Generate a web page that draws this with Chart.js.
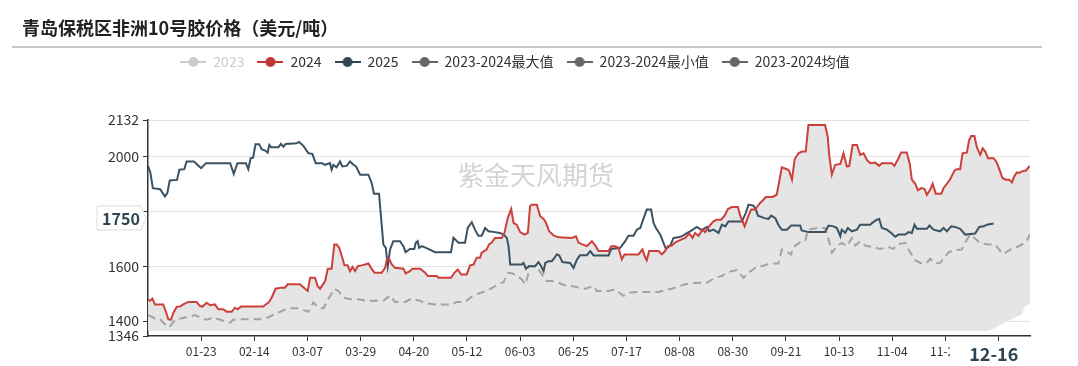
<!DOCTYPE html>
<html>
<head>
<meta charset="utf-8">
<script src="https://cdn.jsdelivr.net/npm/chart.js@4.4.1/dist/chart.umd.min.js"></script>
<style>
  html, body { margin: 0; padding: 0; background: #fff; }
  #wrap { position: relative; width: 1078px; height: 366px; overflow: hidden; }
  #title { position: absolute; left: 22px; top: 15px; font: bold 18px "Noto Sans CJK SC", sans-serif; color: #222; line-height: 24px; }
  #rule { position: absolute; left: 12px; top: 46px; width: 1030px; height: 2px; background: #c8c8c8; }
  canvas { position: absolute; left: 0; top: 0; }
</style>
</head>
<body>
<div id="wrap">
  <canvas id="chart" width="1078" height="366"></canvas>
  <div id="title">青岛保税区非洲10号胶价格（美元/吨）</div>
  <div id="rule"></div>
</div>
<script>
// ---------------- CATEGORIES (day of year -> MM-DD) ----------------
const dates = [];
for (let d = new Date(2024, 0, 1); d.getFullYear() === 2024; d.setDate(d.getDate() + 1)) {
  dates.push(String(d.getMonth() + 1).padStart(2, "0") + "-" + String(d.getDate()).padStart(2, "0"));
}

const tickDays = [22, 44, 66, 88, 110, 132, 154, 176, 198, 220, 242, 264, 286, 308, 330, 352];
const yTicks = [1346, 1400, 1600, 1800, 2000, 2132];

// axis pointer shown in the reference
const pointerDay = 350;
const pointerValue = 1750;

// ---------------- SERIES ([day, price]) ----------------
const s2024 = [
  [0,1478],[0.8,1474],[1.8,1482],[2.9,1461],[6.3,1461],[7.3,1437],[8.4,1407],[9.5,1405],[10.5,1431],
  [11.9,1452],[13.2,1453],[14.6,1461],[16.7,1470],[20.1,1470],[21.5,1455],[22.5,1453],[24.3,1467],
  [25.7,1458],[27.7,1461],[29.1,1443],[31.2,1443],[32.6,1434],[34.6,1434],[36,1449],[37.1,1443],
  [38.5,1453],[47.7,1453],[50.1,1470],[51.2,1486],[52.8,1518],[55.1,1522],[56.7,1522],[57.8,1534],
  [62.9,1534],[65,1518],[66.1,1510],[67.1,1558],[69.1,1558],[70.2,1528],[71.2,1518],[73.3,1546],
  [74.4,1591],[76,1591],[77.1,1679],[78.1,1679],[79.1,1667],[80.2,1637],[81.3,1603],[82.6,1603],
  [83.6,1582],[84.6,1597],[85.7,1582],[86.8,1600],[88.4,1603],[89.8,1606],[91.2,1610],[92.3,1594],
  [93.7,1576],[96.7,1576],[98.1,1594],[98.9,1625],[99.8,1627],[100.9,1606],[102.2,1594],[105.7,1591],
  [106.6,1574],[108.4,1582],[109.4,1591],[112.6,1591],[114.7,1576],[115.8,1564],[119.5,1564],
  [120.2,1558],[125.4,1558],[126.8,1576],[128.2,1588],[129.6,1570],[131.9,1570],[133.3,1603],
  [134.7,1606],[136,1631],[137.4,1631],[138.1,1649],[140.2,1661],[141.1,1679],[142.2,1685],
  [143.6,1703],[146.4,1703],[147.5,1721],[148.9,1776],[150.3,1808],[151.3,1757],[152.6,1751],
  [154,1724],[155.8,1715],[157.2,1721],[158.1,1818],[158.8,1824],[160.9,1824],[162.3,1782],
  [163.7,1772],[164.6,1760],[166,1727],[168,1711],[170,1705],[175.4,1703],[177.1,1709],[178.2,1685],
  [181.6,1673],[183.7,1691],[185.3,1673],[186.4,1655],[190.6,1655],[191.7,1673],[193.3,1673],
  [194.7,1667],[196.1,1625],[197.2,1643],[203,1643],[204.6,1661],[205.5,1637],[206.4,1622],
  [207.4,1655],[211.3,1655],[212.6,1643],[214,1655],[215.1,1673],[216.8,1675],[218.2,1687],
  [220.2,1695],[222.3,1703],[224,1719],[225.3,1703],[226.4,1721],[227.8,1711],[229.5,1733],
  [230.6,1724],[232.2,1745],[234,1763],[235.4,1769],[237.2,1769],[238.6,1784],[240,1808],
  [241.6,1815],[244.1,1815],[245.1,1784],[246.9,1745],[248.5,1784],[249.6,1806],[251.3,1806],
  [252.4,1820],[253.3,1830],[254.7,1842],[255.7,1852],[258.4,1852],[260.2,1860],[261.2,1908],
  [262.3,1960],[264.4,1953],[265.3,1948],[266.5,1915],[267.6,1989],[269.2,2011],[270.6,2017],
  [272.2,2017],[273.3,2114],[280.2,2114],[281.3,2071],[281.9,2005],[283,1933],[284.4,1969],
  [286.5,1972],[287.8,2011],[289.2,1963],[290.2,1965],[291.6,2041],[293.4,2041],[294.7,2005],
  [296.1,2011],[297.5,1987],[298.9,1975],[300.9,1977],[302.6,1965],[303.7,1975],[307.8,1975],
  [308.9,1965],[310.6,1993],[311.7,2014],[314,2014],[315.2,1975],[316.1,1915],[317.5,1900],
  [318.6,1876],[320,1884],[321.4,1881],[322.3,1860],[323.7,1878],[324.7,1900],[326,1864],
  [328.3,1864],[329.2,1884],[330.6,1900],[332,1917],[333,1935],[333.8,1948],[334.7,1953],
  [336.1,1953],[337.1,2011],[338.9,2014],[339.8,2059],[340.7,2074],[342,2074],[343,2033],
  [344.4,2005],[345.4,2029],[346.5,2017],[347.6,1993],[349.9,1993],[351,1981],[352.3,1953],
  [353.6,1921],[355,1915],[356.4,1915],[357.5,1905],[358.6,1929],[359.6,1941],[360.5,1939],
  [361.6,1945],[363.3,1948],[364.4,1960],[365,1965]
];

const s2025 = [
  [0,1965],[1,1940],[2,1884],[5,1880],[7,1854],[8,1866],[9,1912],[12,1914],[13,1951],[15,1953],
  [16,1981],[19,1981],[21,1965],[22,1957],[24,1975],[34,1975],[35.5,1936],[37,1975],[40.5,1975],
  [41.5,1953],[42.5,1993],[43.5,1995],[44.5,2044],[46,2044],[47,2026],[48.5,2021],[49.5,2013],
  [50.2,2041],[51,2033],[54,2033],[55,2045],[56,2035],[57,2045],[61.5,2047],[62.5,2052],
  [64.3,2038],[66.4,2011],[68,2009],[69.4,1975],[72,1975],[73.3,1969],[75.3,1975],[76,1951],
  [76.7,1969],[78,1960],[79.5,1981],[80.4,1963],[82.2,1965],[83.6,1981],[85,1969],[86.1,1963],
  [87.1,1945],[87.8,1933],[91.2,1933],[92.6,1902],[93.5,1864],[95.6,1864],[96.4,1782],[97.4,1679],
  [98.4,1667],[99.2,1600],[100.2,1661],[101.5,1691],[104.3,1691],[105.7,1673],[106.6,1651],
  [108.4,1663],[110.2,1663],[110.8,1685],[111.6,1691],[112.2,1667],[113.3,1673],[116,1663],
  [118.8,1651],[125.4,1651],[126.4,1703],[128.5,1685],[131.2,1685],[132.3,1739],[134,1760],
  [135.3,1733],[136.7,1711],[138.1,1711],[139.5,1739],[140.9,1727],[143.6,1724],[145.7,1721],
  [147.1,1715],[148.5,1703],[149.2,1673],[149.9,1606],[154.7,1606],[155.4,1612],[156.4,1591],
  [157.5,1600],[160.2,1600],[161.6,1615],[162.7,1600],[163.7,1582],[164.4,1612],[165.7,1618],
  [167.1,1618],[168.2,1630],[169.2,1643],[170.2,1639],[171.5,1615],[174.7,1612],[176.1,1594],
  [177.5,1624],[178.8,1640],[181.6,1640],[183,1655],[184.4,1639],[190.6,1639],[191.7,1663],
  [195.4,1667],[197.5,1691],[198.8,1711],[200.9,1711],[202.3,1733],[203.7,1739],[205.5,1784],
  [206.4,1806],[208.2,1806],[209.2,1757],[210.2,1739],[212,1715],[214.3,1663],[216.1,1675],
  [217.5,1703],[219.5,1705],[220.9,1709],[223,1720],[224.4,1727],[227.1,1743],[229.2,1731],
  [231.3,1743],[232.2,1727],[234,1733],[236.1,1721],[237.5,1751],[238.9,1745],[240.2,1763],
  [245.8,1763],[247.4,1794],[248.5,1824],[250.6,1820],[251.6,1806],[252.4,1784],[255.1,1775],
  [256.8,1772],[257.9,1784],[259.6,1775],[261,1748],[262.3,1733],[264.4,1733],[266.2,1748],
  [269.9,1748],[270.5,1730],[273.3,1724],[280.2,1724],[281.6,1748],[283.7,1745],[285.1,1739],
  [286.5,1709],[287.1,1733],[288.5,1721],[289.6,1739],[291.3,1727],[293.4,1733],[294.7,1751],
  [298.9,1751],[299.6,1757],[301.6,1769],[302.6,1772],[303.7,1739],[305.8,1733],[307.8,1719],
  [309.2,1707],[310.6,1715],[313.4,1715],[314.7,1724],[316.1,1721],[317.2,1751],[318.2,1736],
  [322.3,1736],[323.4,1748],[325.1,1733],[327.8,1727],[329.2,1739],[330.6,1727],[332.4,1745],
  [334,1743],[336.1,1736],[338.2,1715],[342.3,1719],[344,1743],[345.8,1745],[347.2,1751],
  [349.9,1755]
];

// upper edge of the grey band sits on the 2024 line all year
const sMax = s2024;

// lower edge of the grey band
const sMin = [[0,1365],[347.8,1365],[350,1372],[354.7,1395],[358,1410],[361.6,1425],[363,1455],[365,1462]];

const sMean = [
  [0,1422],[0.8,1419],[2.9,1410],[5,1407],[6.3,1395],[8.4,1377],[9.5,1385],[11.2,1405],[15.3,1413],
  [19.5,1422],[22.5,1410],[24.3,1405],[27.1,1413],[29.8,1405],[32.6,1397],[34,1395],[35.3,1405],
  [38.8,1407],[47.7,1407],[50.5,1417],[53.3,1429],[58.1,1447],[62.2,1447],[66.4,1434],[68.4,1468],
  [70.5,1449],[72.6,1446],[74.6,1480],[77.1,1518],[78.8,1510],[80.9,1486],[83.6,1480],[87.1,1480],
  [90.5,1474],[97.4,1474],[100.2,1494],[102.2,1470],[106.4,1470],[109.1,1482],[112.6,1474],
  [114.7,1465],[118.8,1461],[125.7,1461],[127.8,1470],[131.2,1470],[134,1489],[136,1498],
  [140.9,1513],[145,1534],[147.1,1542],[148.9,1576],[150.6,1574],[152.6,1567],[154.7,1552],
  [156.1,1534],[157.2,1564],[157.7,1600],[160.2,1600],[161.6,1588],[164.1,1558],[165.1,1546],
  [167.1,1546],[169.9,1540],[172.6,1530],[175.4,1528],[178.2,1522],[180.9,1518],[184.4,1528],
  [185.7,1510],[190.6,1510],[193.3,1516],[196.8,1492],[199.5,1504],[203,1506],[211.3,1506],
  [214,1513],[216.8,1518],[220.2,1528],[222.3,1534],[227.8,1540],[231.3,1540],[234.7,1558],
  [237.5,1564],[240.2,1579],[243.7,1586],[246.4,1558],[248.5,1576],[252,1598],[254,1600],
  [257.5,1610],[260.9,1610],[262.3,1661],[263.7,1655],[266.2,1643],[266.7,1667],[269.9,1687],
  [272,1691],[273.1,1733],[276.8,1739],[280.2,1739],[281.3,1711],[283,1649],[285.1,1673],
  [287.1,1685],[289.2,1673],[291.3,1703],[292.7,1675],[294.7,1691],[296.8,1675],[299.6,1670],
  [303,1663],[306.5,1670],[308.5,1663],[309.9,1679],[313.4,1685],[314.7,1661],[317.5,1622],
  [319.6,1612],[322.3,1612],[323.7,1627],[325.8,1610],[327.8,1612],[329.2,1627],[331.3,1651],
  [334,1658],[336.8,1661],[338.9,1697],[340.3,1715],[342.3,1700],[344.4,1683],[347.8,1679],
  [350.6,1679],[352.7,1655],[354.1,1643],[355.8,1655],[357.5,1663],[359.6,1670],[361.6,1679],
  [363.3,1687],[365,1715]
];

// ---------------- HELPERS ----------------
const FONT = '"Noto Sans CJK SC", "Noto Sans", sans-serif';
const pts = (s) => s.map(([d, v]) => ({ x: d, y: v }));

function legendIcon(color) {
  const c = document.createElement("canvas");
  c.width = 26;
  c.height = 12;
  const g = c.getContext("2d");
  g.strokeStyle = color;
  g.lineWidth = 2;
  g.beginPath();
  g.moveTo(0, 6);
  g.lineTo(26, 6);
  g.stroke();
  g.fillStyle = color;
  g.beginPath();
  g.arc(13, 6, 5, 0, Math.PI * 2);
  g.fill();
  return c;
}

const legendColors = ["#cccccc", "#c23531", "#2f4554", "#666666", "#666666", "#666666"];

// ---------------- PLUGINS ----------------
const legendSpacer = {
  id: "legendSpacer",
  beforeInit(chart) {
    const fit = chart.legend.fit;
    chart.legend.fit = function () {
      fit.bind(chart.legend)();
      this.height += 41;
    };
  },
};

const overlay = {
  id: "overlay",
  afterDraw(chart) {
    const { ctx, chartArea, scales } = chart;
    ctx.save();

    // watermark
    ctx.font = "26px " + FONT;
    ctx.fillStyle = "#d4d4d4";
    ctx.textAlign = "left";
    ctx.textBaseline = "middle";
    ctx.fillText("紫金天风期货", 458, 175);

    // y pointer tag
    const py = scales.y.getPixelForValue(pointerValue) - 7;
    const tip = chartArea.left - 2;
    const left = 97;
    ctx.beginPath();
    ctx.moveTo(left, py - 12);
    ctx.lineTo(tip - 5, py - 12);
    ctx.lineTo(tip, py);
    ctx.lineTo(tip - 5, py + 12);
    ctx.lineTo(left, py + 12);
    ctx.closePath();
    ctx.fillStyle = "#fff";
    ctx.fill();
    ctx.strokeStyle = "#dddddd";
    ctx.lineWidth = 1;
    ctx.stroke();
    ctx.font = "bold 16px " + FONT;
    ctx.fillStyle = "#2f4554";
    ctx.textAlign = "center";
    ctx.fillText(String(pointerValue), left + 24, py + 1);

    // x pointer tag
    const px = scales.x.getPixelForValue(pointerDay);
    ctx.fillStyle = "#fff";
    ctx.fillRect(px - 44, chartArea.bottom + 7, 88, 28);
    ctx.font = "bold 18px " + FONT;
    ctx.fillStyle = "#2f4554";
    ctx.fillText(dates[pointerDay], px, chartArea.bottom + 18);

    ctx.restore();
  },
};

// ---------------- CHART ----------------
Chart.defaults.font.family = FONT;

new Chart(document.getElementById("chart"), {
  type: "line",
  data: {
    datasets: [
      { label: "2023", data: [], borderColor: "#cccccc", hidden: true },
      { label: "2024", data: pts(s2024), borderColor: "#cd3f3a", borderWidth: 2 },
      { label: "2025", data: pts(s2025), borderColor: "#3b5262", borderWidth: 2 },
      { label: "2023-2024最大值", data: pts(sMax), borderWidth: 0, borderColor: "rgba(0,0,0,0)", backgroundColor: "#e5e5e5", fill: "+1" },
      { label: "2023-2024最小值", data: pts(sMin), borderWidth: 0, borderColor: "rgba(0,0,0,0)", fill: false },
      { label: "2023-2024均值", data: pts(sMean), borderColor: "#a3a3a3", borderWidth: 2, borderDash: [8, 5] },
    ],
  },
  options: {
    responsive: false,
    animation: false,
    events: [],
    elements: { point: { radius: 0 }, line: { tension: 0 } },
    layout: { padding: { top: 42, right: 48, left: 0, bottom: 0 } },
    plugins: {
      tooltip: { enabled: false },
      filler: { drawTime: "beforeDatasetsDraw" },
      legend: {
        position: "top",
        labels: {
          usePointStyle: true,
          pointStyleWidth: 26,
          boxHeight: 12,
          padding: 13,
          font: { size: 14 },
          color: "#333",
          generateLabels(chart) {
            return chart.data.datasets.map((ds, i) => ({
              text: ds.label,
              pointStyle: legendIcon(legendColors[i]),
              fillStyle: legendColors[i],
              strokeStyle: legendColors[i],
              lineWidth: 0,
              fontColor: i === 0 ? "#cccccc" : "#333333",
              hidden: false,
              datasetIndex: i,
            }));
          },
        },
      },
    },
    scales: {
      x: {
        type: "linear",
        min: 0,
        max: 365,
        afterBuildTicks: (s) => { s.ticks = tickDays.map((v) => ({ value: v })); },
        afterFit: (s) => { s.height = 30; },
        ticks: { callback: (v) => dates[v], color: "#333", font: { size: 12 }, maxRotation: 0, autoSkip: false, padding: 3 },
        grid: { drawOnChartArea: false, tickLength: 5, tickColor: "#333" },
        border: { color: "#333", width: 1.5 },
      },
      y: {
        min: 1346,
        max: 2132,
        afterBuildTicks: (s) => { s.ticks = yTicks.map((v) => ({ value: v })); },
        afterFit: (s) => { s.width = 148; },
        ticks: { callback: (v) => String(v), color: "#333", font: { size: 14 }, padding: 4 },
        grid: {
          color: (c) => (c.tick && c.tick.value === 1346 ? "rgba(0,0,0,0)" : "#e3e3e3"),
          tickColor: "#333",
          tickLength: 5,
        },
        border: { color: "#333", width: 1.5 },
      },
    },
  },
  plugins: [legendSpacer, overlay],
});
</script>
</body>
</html>
